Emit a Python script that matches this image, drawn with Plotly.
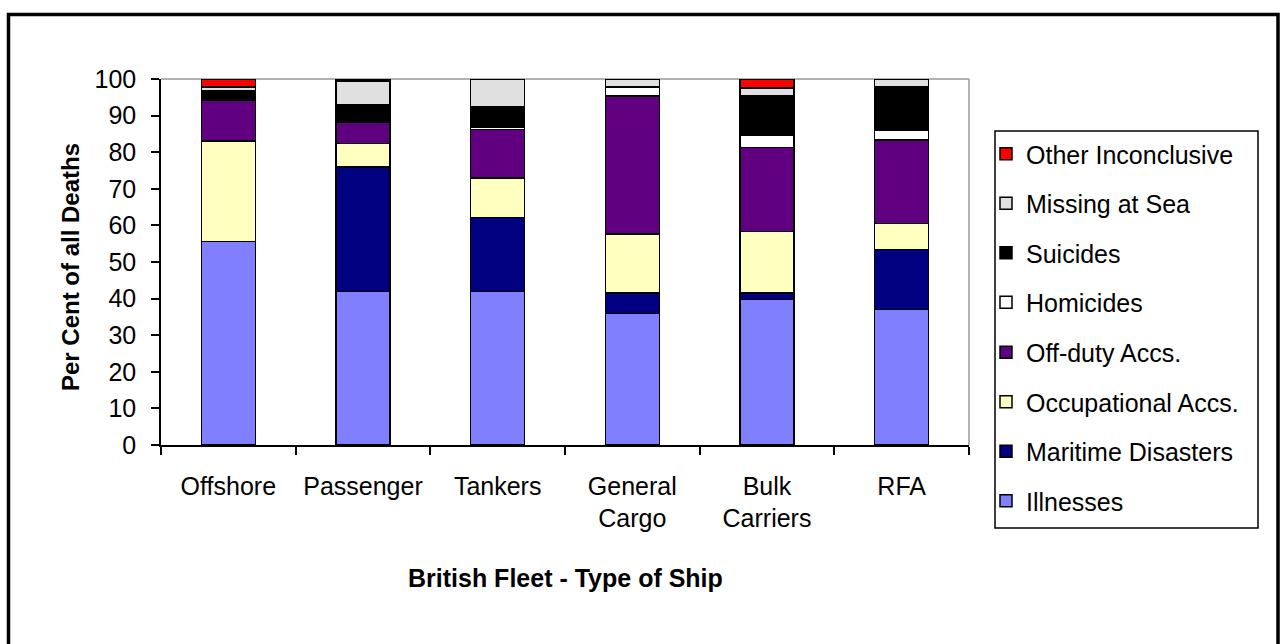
import plotly.graph_objects as go

categories = ["Offshore", "Passenger", "Tankers", "General<br>Cargo", "Bulk<br>Carriers", "RFA"]

illnesses    = [55.6, 42.0, 42.0, 35.9, 39.7, 37.0]
maritime     = [0.0, 33.9, 20.2, 5.6, 1.8, 16.4]
occupational = [27.4, 6.5, 10.8, 16.2, 16.8, 7.1]
offduty      = [11.3, 5.9, 13.2, 37.7, 23.0, 22.9]
homicides    = [0.0, 0.0, 0.7, 2.4, 3.2, 2.7]
suicides     = [2.6, 4.7, 5.6, 0.0, 10.8, 11.9]
missing      = [0.9, 6.5, 7.5, 2.2, 2.2, 2.0]
other        = [2.2, 0.5, 0.0, 0.0, 2.5, 0.0]

series_names = ["Illnesses", "Maritime Disasters", "Occupational Accs.", "Off-duty Accs.",
                "Homicides", "Suicides", "Missing at Sea", "Other Inconclusive"]
series_values = [illnesses, maritime, occupational, offduty, homicides, suicides, missing, other]
series_colors = ["#8080FF", "#000080", "#FFFFC0", "#600080", "#FFFFFF", "#000000", "#E0E0E0", "#FF0000"]

y_ticks = [0, 10, 20, 30, 40, 50, 60, 70, 80, 90, 100]

FONT = "Liberation Sans, Arial, sans-serif"

fig = go.Figure()
n = len(series_names)
for i, (name, vals, col) in enumerate(zip(series_names, series_values, series_colors)):
    fig.add_trace(go.Bar(
        x=categories, y=vals, name=name, legendgroup=name, legendrank=100 + (n - i),
        legend="legend" if i >= 4 else "legend2",
        marker=dict(color=col, line=dict(color="black", width=1.5)),
    ))

W, H = 1281, 644
L, R, T, B = 161, 969, 79, 445


def px(xp):
    return (xp - L) / (R - L)


def py(yp):
    return (B - yp) / (B - T)


legend_common = dict(
    xanchor="left", yanchor="top",
    traceorder="grouped", tracegroupgap=14,
    borderwidth=0, bgcolor="rgba(0,0,0,0)",
    font=dict(family=FONT, size=25, color="black"),
    itemclick=False, itemdoubleclick=False,
)

fig.update_layout(
    width=W, height=H,
    margin=dict(l=L, r=W - R, t=T, b=H - B, pad=0, autoexpand=False),
    paper_bgcolor="white", plot_bgcolor="white",
    barmode="stack", bargap=0.6,
    font=dict(family=FONT, size=25, color="black"),
    showlegend=True,
    legend=dict(x=px(986), y=py(131), **legend_common),
    legend2=dict(x=px(986), y=py(329.5), **legend_common),
    xaxis=dict(
        type="category", tickson="boundaries", ticks="outside", ticklen=8, tickwidth=1.5,
        tickcolor="black", showline=True, linecolor="black", linewidth=1.5,
        showgrid=False, zeroline=False, tickfont=dict(size=25), ticklabelstandoff=18,
    ),
    yaxis=dict(
        range=[0, 100], tickvals=y_ticks, ticks="outside", ticklen=8, tickwidth=1.5,
        tickcolor="black", showline=True, linecolor="black", linewidth=1.5,
        showgrid=False, zeroline=False, tickfont=dict(size=25), ticklabelstandoff=10,
    ),
    xaxis2=dict(
        overlaying="x", anchor="y", side="bottom", range=[-0.5, 5.5],
        tickvals=[-0.5, 0.5, 1.5, 2.5, 3.5, 4.5, 5.5], ticks="inside", ticklen=7,
        tickwidth=1.5, tickcolor="black", showticklabels=False, showline=False,
        showgrid=False, zeroline=False,
    ),
    yaxis2=dict(
        overlaying="y", anchor="x", side="left", range=[0, 100], tickvals=y_ticks,
        ticks="inside", ticklen=5, tickwidth=1.5, tickcolor="black",
        showticklabels=False, showline=False, showgrid=False, zeroline=False,
    ),
    shapes=[
        dict(type="line", xref="paper", yref="paper", x0=0, x1=1, y0=1, y1=1,
             line=dict(color="#999999", width=1.5), layer="below"),
        dict(type="line", xref="paper", yref="paper", x0=1, x1=1, y0=0, y1=1,
             line=dict(color="#999999", width=1.5), layer="below"),
        dict(type="rect", xref="paper", yref="paper", x0=px(995), x1=px(1258),
             y0=py(528), y1=py(131), line=dict(color="black", width=1.5),
             fillcolor="rgba(0,0,0,0)", layer="above"),
        dict(type="rect", xref="paper", yref="paper", x0=px(8.5), x1=px(1278),
             y0=py(650), y1=py(14.5), line=dict(color="black", width=3.5),
             fillcolor="rgba(0,0,0,0)", layer="above"),
    ],
    annotations=[
        dict(text="<b>Per Cent of all Deaths</b>", xref="paper", yref="paper",
             x=px(70), y=py(267), textangle=-90, showarrow=False,
             xanchor="center", yanchor="middle", font=dict(size=24, family=FONT)),
        dict(text="<b>British Fleet - Type of Ship</b>", xref="paper", yref="paper",
             x=px(565), y=py(578), showarrow=False,
             xanchor="center", yanchor="middle", font=dict(size=25, family=FONT)),
    ],
)

fig.write_html("out.html")
